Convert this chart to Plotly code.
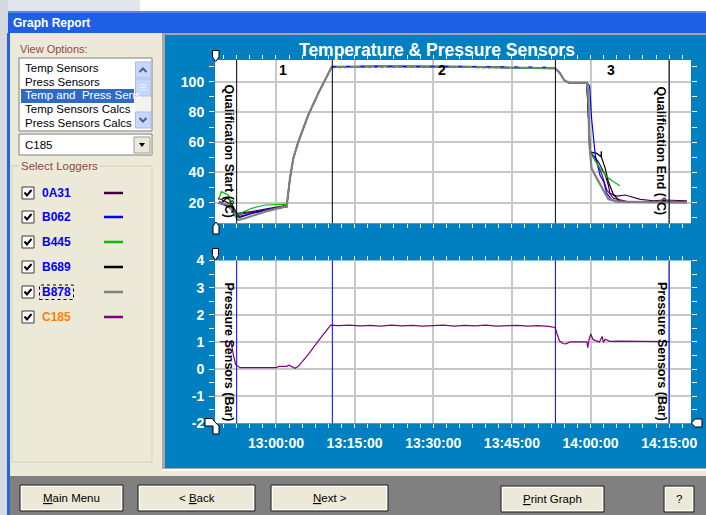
import plotly.graph_objects as go

W, H = 706, 515
DAY = "2009-06-15 "

# ---------------- data ----------------
LOGGERS = ["0A31", "B062", "B445", "B689", "B878", "C185"]
LOGGER_COLORS = ["#400040", "#0000FF", "#00C000", "#000000", "#808080", "#800080"]
LOGGER_LABEL_COLORS = ["#0000FF", "#0000FF", "#0000FF", "#0000FF", "#0000FF", "#FF8000"]

# shared heat-up / plateau / first cool-down segment (all loggers)
RAMP_TIMES = ["13:02:02", "13:02:40", "13:03:18", "13:04:16", "13:06:10", "13:08:04",
              "13:09:59", "13:10:38", "13:20:00", "13:35:00", "13:53:15", "13:54:12",
              "13:54:58", "13:55:47", "13:59:18"]
RAMP_TEMPS = [17.4, 36.1, 49.3, 60.3, 78.0, 92.3, 105.5, 109.9, 110.1, 110.0, 108.8,
              105.5, 101.1, 99.4, 99.4]

# noisy readings on the 110 °C plateau (seen as dotted traces over the grey one)
PLATEAU_TIMES = ["13:10:45", "13:20:00", "13:35:00", "13:52:40"]
B445_PLATEAU_TEMPS = [109.4, 109.5, 109.5, 109.0]
B062_PLATEAU_TEMPS = [110.1, 110.2, 110.1, 109.6]

# per-logger start (before ramp) and end (after 13:59:18)
START_TIMES = {
    "0A31": ["12:48:55", "12:51:40", "12:52:30", "12:55:20", "13:01:40"],
    "B062": ["12:49:00", "12:51:00", "12:52:30", "12:53:06", "12:57:54", "13:01:43"],
    "B445": ["12:49:00", "12:49:36", "12:50:54", "12:51:51", "12:52:30", "12:55:22", "12:57:54", "13:01:43"],
    "B689": ["12:49:36", "12:50:36", "12:51:12", "12:51:51", "12:52:30", "12:53:06", "12:55:22", "13:01:43"],
    "B878": ["12:49:00", "12:51:00", "12:52:18", "12:52:48", "12:54:06", "12:57:54", "13:01:43"],
    "C185": ["12:49:12", "12:51:51", "12:52:30", "12:55:22", "13:01:43"],
}
START_TEMPS = {
    "0A31": [23.1, 18.7, 13.0, 14.1, 18.1],
    "B062": [19.8, 17.4, 12.0, 11.0, 15.2, 17.4],
    "B445": [21.8, 27.3, 25.1, 14.1, 12.0, 16.3, 18.5, 19.1],
    "B689": [19.8, 23.1, 21.8, 14.1, 11.0, 10.3, 13.0, 17.4],
    "B878": [19.8, 18.7, 11.0, 8.6, 9.7, 14.1, 17.4],
    "C185": [20.9, 15.2, 12.0, 13.7, 17.4],
}
END_TIMES = {
    "0A31": ["13:59:40", "13:59:55", "14:01:30", "14:02:48", "14:03:24", "14:03:42", "14:05:00",
             "14:06:36", "14:09:30", "14:12:00", "14:13:54", "14:18:24"],
    "B062": ["13:59:50", "14:00:12", "14:00:54", "14:01:48", "14:02:30", "14:03:06", "14:04:06",
             "14:05:36", "14:08:12"],
    "B445": ["13:59:40", "13:59:55", "14:00:36", "14:01:48", "14:03:06", "14:04:24", "14:05:36"],
    "B689": ["13:59:44", "13:59:55", "14:01:12", "14:02:00", "14:02:03", "14:02:06", "14:02:48",
             "14:03:24", "14:04:24", "14:05:36", "14:08:12", "14:18:24"],
    "B878": ["13:59:36", "13:59:44", "14:00:12", "14:01:12", "14:02:30", "14:03:24", "14:05:00", "14:18:24"],
    "C185": ["13:59:44", "13:59:55", "14:00:54", "14:02:12", "14:03:06", "14:04:24", "14:06:54", "14:18:24"],
}
END_TEMPS = {
    "0A31": [75.0, 53.7, 47.1, 38.3, 31.7, 26.2, 24.4, 25.1, 22.2, 21.3, 21.8, 21.3],
    "B062": [97.0, 75.8, 51.5, 38.3, 33.9, 26.2, 21.8, 20.7, 20.2],
    "B445": [80.0, 53.7, 49.3, 42.7, 37.2, 33.9, 31.2],
    "B689": [60.3, 53.7, 52.6, 50.4, 54.0, 50.0, 42.7, 33.9, 25.1, 21.1, 20.2, 20.2],
    "B878": [92.3, 60.3, 42.7, 36.1, 28.4, 22.4, 20.7, 20.0],
    "C185": [60.3, 53.7, 49.3, 38.3, 28.4, 22.9, 20.9, 20.4],
}

# pressure logger C185 (Bar)
PRESS_TIMES = ["12:49:19", "12:51:25", "12:51:55", "12:52:18", "12:53:08", "13:00:08", "13:00:30",
               "13:02:02", "13:02:29", "13:02:59", "13:03:38", "13:04:16", "13:06:10", "13:08:05",
               "13:09:21", "13:10:26", "13:12:00", "13:14:00", "13:16:00", "13:18:00", "13:20:00",
               "13:22:00", "13:24:00", "13:26:00", "13:28:00", "13:30:00", "13:32:00", "13:34:00",
               "13:36:00", "13:38:00", "13:40:00", "13:42:00", "13:44:00", "13:46:00", "13:48:00",
               "13:50:00", "13:52:00", "13:53:15", "13:53:34", "13:54:04", "13:54:43", "13:55:20",
               "13:56:06", "13:59:18", "13:59:29", "13:59:44", "14:00:03", "14:00:26", "14:01:04",
               "14:01:42", "14:02:13", "14:02:28", "14:02:47", "14:03:12", "14:03:42", "14:05:36",
               "14:15:04"]
PRESS_VALUES = [1.01, 1.0, 0.48, 0.17, 0.05, 0.05, 0.1, 0.1, 0.14, 0.1, 0.03, 0.1, 0.54, 1.04,
                1.35, 1.62, 1.60, 1.62, 1.59, 1.61, 1.58, 1.62, 1.59, 1.61, 1.58, 1.60, 1.62,
                1.58, 1.61, 1.59, 1.62, 1.58, 1.60, 1.61, 1.58, 1.60, 1.57, 1.53, 1.32, 1.04,
                0.94, 0.93, 1.0, 1.0, 0.79, 1.1, 1.29, 1.1, 1.04, 1.0, 1.2, 0.98, 1.1, 1.06,
                1.02, 1.03, 1.01]

PHASE_TIMES = ["12:52:30", "13:10:45", "13:53:18", "14:15:00"]
PHASE_LABELS = ["1", "2", "3"]
PHASE_LABEL_TIMES = ["13:01:20", "13:31:40", "14:03:56"]

TEMP_TICKS = [20, 40, 60, 80, 100]
PRESS_TICKS = [-2, -1, 0, 1, 2, 3, 4]
PRESS_TICK_TEXT = ["-2", "-1", "0", "1", "2", "3", "4"]

VIEW_OPTIONS = ["Temp Sensors", "Press Sensors", "Temp and\u00a0 Press Sens", "Temp Sensors Calcs",
                "Press Sensors Calcs"]
BUTTONS = ["<u>M</u>ain Menu", "&lt; <u>B</u>ack", "<u>N</u>ext &gt;", "<u>P</u>rint Graph", "?"]

# ---------------- helpers ----------------
FONT = "Liberation Sans"
shapes, annotations = [], []


def X(px):
    return px / W


def Y(py):
    return 1 - py / H


def rect(x0, y0, x1, y1, fill=None, line=None, lw=1, layer="above", dash=None):
    shapes.append(dict(type="rect", xref="paper", yref="paper", x0=X(x0), x1=X(x1), y0=Y(y1), y1=Y(y0),
                       fillcolor=fill or "rgba(0,0,0,0)",
                       line=dict(color=line or "rgba(0,0,0,0)", width=lw if line else 0, dash=dash),
                       layer=layer))


def poly(points, fill=None, line=None, lw=1, closed=True, layer="above"):
    d = "M" + " L".join(f"{X(x):.5f},{Y(y):.5f}" for x, y in points) + (" Z" if closed else "")
    shapes.append(dict(type="path", xref="paper", yref="paper", path=d,
                       fillcolor=fill or "rgba(0,0,0,0)",
                       line=dict(color=line or "rgba(0,0,0,0)", width=lw if line else 0), layer=layer))


def text(x, y, s, size=11, color="black", bold=False, anchor="left", angle=0, bg=None):
    annotations.append(dict(xref="paper", yref="paper", x=X(x), y=Y(y), text=s, showarrow=False,
                            xanchor=anchor, yanchor="middle", textangle=angle, borderpad=1,
                            bgcolor=bg or "rgba(0,0,0,0)",
                            font=dict(family=FONT, size=size, color=color,
                                      weight="bold" if bold else "normal")))


# ---------------- window chrome ----------------
rect(0, 0, 706, 11, fill="white", layer="below")
rect(0, 0, 140, 11, fill="#E2E5EC", layer="below")
rect(0, 0, 8, 515, fill="#D5D9E2", layer="below")
rect(8, 11, 706, 33, fill="#1F5FE6", layer="below")
rect(8, 11, 706, 13, fill="#4D8AF2", layer="below")
rect(7, 33, 10, 515, fill="#2B63D9", layer="below")
text(11, 23, "Graph Report", size=12, color="white", bold=True)

# chart panel
rect(162, 33, 706, 470, fill="#A7A6AA", layer="below")
rect(165, 35, 706, 468, fill="#0080C0", layer="below")
rect(162, 469, 706, 471, fill="#FFFFFF", layer="below")
# white plotting areas
rect(215, 60, 691, 223.3, fill="white", layer="below")
rect(215, 260.5, 691, 423.3, fill="white", layer="below")
# bottom bar
rect(10, 476, 706, 515, fill="#808080", layer="below")

# left panel
text(18, 49, "View Options:", size=11, color="#8B4A4A")
rect(19, 58, 152, 131, fill="white", line="#7F7F7F")
rect(21, 89, 134, 103, fill="#316AC5")
for i, s in enumerate(VIEW_OPTIONS):
    text(23, 68 + i * 13.7, s, size=11.5, color="white" if i == 2 else "black")
rect(135, 61, 151, 128, fill="#F3F2EC")
for y0, y1 in [(62, 78), (79, 96), (112, 128)]:
    rect(135.5, y0, 151, y1, fill="#C6D6FC", line="#A9BDEA")
poly([(139.5, 72), (143, 68.5), (146.5, 72)], line="#4D6185", lw=2, closed=False)
poly([(139.5, 118), (143, 121.5), (146.5, 118)], line="#4D6185", lw=2, closed=False)
for gy in (85, 87.5, 90):
    poly([(139.5, gy), (146.5, gy)], line="#EEF3FF", lw=1, closed=False)
rect(19, 134, 152, 155, fill="white", line="#7F7F7F")
text(23, 145, "C185", size=11.5)
rect(134, 137, 150, 153, fill="#ECE9D8", line="#9A9A9A")
poly([(139, 143), (145, 143), (142, 147)], fill="black")

rect(12, 166, 152, 462, line="#D0D0BF")
text(19, 166, "Select Loggers", size=11.5, color="#8B4A4A", bg="#ECE9D8")
ROW_Y = [193, 217, 242, 267, 292, 317]
for name, lc, tc, yc in zip(LOGGERS, LOGGER_COLORS, LOGGER_LABEL_COLORS, ROW_Y):
    rect(22, yc - 6, 34, yc + 6, fill="white", line="#3A3A3A")
    poly([(24.5, yc - 0.5), (27, yc + 2.5), (31.5, yc - 3)], line="black", lw=2, closed=False)
    text(40, yc, name, size=12, color=tc, bold=True)
    poly([(104, yc), (123, yc)], line=lc, lw=2.5, closed=False)
rect(39.5, 285, 73.5, 299.5, line="black", dash="dot")

# buttons
BUTTON_BOXES = [(20, 485, 123, 511), (138, 485, 255, 511), (271, 485, 388, 511),
                (501, 486, 604, 512), (664, 486, 694, 512)]
for label, (x0, y0, x1, y1) in zip(BUTTONS, BUTTON_BOXES):
    rect(x0, y0, x1, y1, fill="#ECE9D8", line="#1E1E1E")
    rect(x0 + 1.5, y0 + 1.5, x1 - 1.5, y1 - 1.5, line="#FFFFFF")
    text((x0 + x1) / 2, (y0 + y1) / 2, label, size=11.5, anchor="center")

# title & axis texts
text(437, 50, "Temperature &amp; Pressure Sensors", size=17.5, color="white", bold=True, anchor="center")
text(228.5, 151, "Qualification Start (°C)", size=12.5, bold=True, anchor="center", angle=90)
text(660.5, 151, "Qualification End (°C)", size=12.5, bold=True, anchor="center", angle=90)
text(229, 351.5, "Pressure Sensors (Bar)", size=12.5, bold=True, anchor="center", angle=90)
text(662.5, 351.5, "Pressure Sensors (Bar)", size=12.5, bold=True, anchor="center", angle=90)

# cursor handles
poly([(212.5, 50.5), (219, 50.5), (219, 57), (215.7, 61.5), (212.5, 57)], fill="white", line="black")
poly([(216, 222), (219, 226), (219, 234), (213, 234), (213, 226)], fill="white", line="black")
poly([(212.5, 248.5), (218.5, 248.5), (218.5, 255.5), (215.5, 260), (212.5, 255.5)], fill="white", line="black")
poly([(205, 418.5), (212, 418.5), (216, 423), (219, 426), (219, 434), (213, 434), (213, 426), (205, 426)],
     fill="white", line="black")
poly([(691.5, 423), (695, 419), (702, 419), (702, 427), (695, 427)], fill="white", line="black")

# phase / qualification lines
for t in PHASE_TIMES:
    shapes.append(dict(type="line", xref="x", yref="y domain", x0=DAY + t, x1=DAY + t, y0=0, y1=1,
                       line=dict(color="black", width=1), layer="above"))
    shapes.append(dict(type="line", xref="x2", yref="y2 domain", x0=DAY + t, x1=DAY + t, y0=0, y1=1,
                       line=dict(color="#0000FF", width=1), layer="above"))
for lab, t in zip(PHASE_LABELS, PHASE_LABEL_TIMES):
    annotations.append(dict(xref="x", yref="y", x=DAY + t, y=107.9, text=lab, showarrow=False,
                            font=dict(family=FONT, size=14, color="black", weight="bold")))

# ---------------- traces ----------------
fig = go.Figure()
for idx in [5, 0, 3, 1, 2, 4]:
    name = LOGGERS[idx]
    times = START_TIMES[name] + RAMP_TIMES + END_TIMES[name]
    temps = START_TEMPS[name] + RAMP_TEMPS + END_TEMPS[name]
    fig.add_trace(go.Scatter(x=[DAY + t for t in times], y=temps, mode="lines", name=name,
                             line=dict(color=LOGGER_COLORS[idx], width=2.2 if name == "B878" else 1.2),
                             xaxis="x", yaxis="y"))
fig.add_trace(go.Scatter(x=[DAY + t for t in PLATEAU_TIMES], y=B445_PLATEAU_TEMPS, mode="lines",
                         line=dict(color="#00C000", width=1.3, dash="dot"), xaxis="x", yaxis="y"))
fig.add_trace(go.Scatter(x=[DAY + t for t in PLATEAU_TIMES], y=B062_PLATEAU_TEMPS, mode="lines",
                         line=dict(color="#0000FF", width=1.0, dash="4px,10px"), xaxis="x", yaxis="y"))
fig.add_trace(go.Scatter(x=[DAY + t for t in PRESS_TIMES], y=PRESS_VALUES, mode="lines", name="C185",
                         line=dict(color="#800080", width=1.2), xaxis="x2", yaxis="y2"))

XRANGE = [DAY + "12:48:22", DAY + "14:19:10"]
tickfont = dict(family=FONT, size=14, color="white", weight="bold")
xcommon = dict(type="date", range=XRANGE, domain=[X(215), X(691)], showgrid=True, gridcolor="#C8C8C8",
               gridwidth=1.5, tick0=DAY + "13:00:00", dtick=900000, tickformat="%H:%M:%S",
               ticks="outside", ticklen=4, tickcolor="white", mirror="ticks", showline=False,
               zeroline=False, tickfont=tickfont, ticklabelstandoff=3, automargin=False,
               minor=dict(dtick=150000, tick0=DAY + "13:00:00", ticks="outside", ticklen=4,
                          tickcolor="white", showgrid=False))
ycommon = dict(showgrid=True, gridcolor="#C8C8C8", gridwidth=1.5, ticks="outside", ticklen=5,
               tickcolor="white", mirror="ticks", showline=False, zeroline=False, tickfont=tickfont,
               ticklabelstandoff=2, automargin=False)

fig.update_layout(
    width=W, height=H, autosize=False,
    margin=dict(l=0, r=0, t=0, b=0, pad=0, autoexpand=False),
    paper_bgcolor="#ECE9D8", plot_bgcolor="white", showlegend=False, hovermode=False,
    xaxis=dict(xcommon, anchor="y", showticklabels=False),
    xaxis2=dict(xcommon, anchor="y2"),
    yaxis=dict(ycommon, anchor="x", domain=[Y(223.3), Y(60)], range=[6.4, 114.35],
               tickmode="array", tickvals=TEMP_TICKS,
               minor=dict(dtick=10, tick0=0, ticks="outside", ticklen=5, tickcolor="white", showgrid=False)),
    yaxis2=dict(ycommon, anchor="x2", domain=[Y(423.3), Y(260.5)], range=[-2.002, 4.002],
                tickmode="array", tickvals=PRESS_TICKS, ticktext=PRESS_TICK_TEXT,
                minor=dict(dtick=0.5, tick0=0, ticks="outside", ticklen=5, tickcolor="white", showgrid=False)),
    shapes=shapes, annotations=annotations,
)

fig.write_html("out.html", config={"displayModeBar": False},
               post_script="document.body.style.margin='0px';")
